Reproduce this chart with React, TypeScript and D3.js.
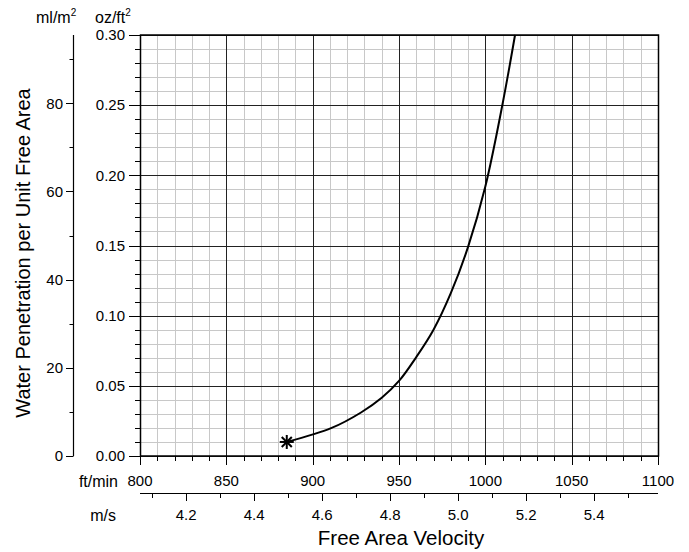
import React from "react";
import * as d3 from "d3";

const velocityFtMin = [885, 911, 928, 940, 950, 960, 970, 980, 990, 1000, 1010, 1017.2];
const penetrationOzFt2 = [0.01, 0.02, 0.031, 0.0415, 0.0535, 0.0705, 0.09, 0.116, 0.149, 0.192, 0.251, 0.3];
const ftTicks = [800, 850, 900, 950, 1000, 1050, 1100];
const msTicks = [4.2, 4.4, 4.6, 4.8, 5.0, 5.2, 5.4];
const ozTicks = [0, 0.05, 0.1, 0.15, 0.2, 0.25, 0.3];
const mlTicks = [0, 20, 40, 60, 80];

const FT_TO_MS = 0.00508;
const OZ_TO_ML = 318.32;
const FONT = "Liberation Sans, Arial, Helvetica, sans-serif";

export default function App() {
  const W = 689, H = 552;
  const L = 140, R = 658, T = 35, B = 456;
  const x = d3.scaleLinear().domain([800, 1100]).range([L, R]);
  const y = d3.scaleLinear().domain([0, 0.3]).range([B, T]);
  const xMs = (v: number) => x(v / FT_TO_MS);
  const yMl = (v: number) => y(v / OZ_TO_ML);
  const cr = (v: number) => Math.round(v) + 0.5;

  const minorX = d3.range(800, 1101, 10);
  const minorY = d3.range(0, 31, 1).map((d) => d / 100);
  const minorMs = d3.range(41, 56, 1).map((d) => d / 10).filter((d) => !msTicks.some((m) => Math.abs(m - d) < 1e-6));
  const minorMl = [10, 30, 50, 70, 90];
  const msAxisY = 493.5;
  const outerX = 73.5;

  const line = d3
    .line<number>()
    .x((_, i) => x(velocityFtMin[i]))
    .y((d) => y(d))
    .curve(d3.curveCatmullRom.alpha(0.5));

  const sx = x(velocityFtMin[0]);
  const sy = y(penetrationOzFt2[0]);
  const s = 7;

  return (
    <svg width={W} height={H} style={{ position: "absolute", left: 0, top: 0, background: "#fff" }} fontFamily={FONT}>
      {/* minor grid */}
      {minorX.map((v) => (
        <line key={"mx" + v} x1={cr(x(v))} x2={cr(x(v))} y1={T} y2={B} stroke="#c8c8c8" strokeWidth={1} />
      ))}
      {minorY.map((v) => (
        <line key={"my" + v} x1={L} x2={R} y1={cr(y(v))} y2={cr(y(v))} stroke="#c8c8c8" strokeWidth={1} />
      ))}
      {/* major grid */}
      {ftTicks.map((v) => (
        <line key={"Mx" + v} x1={cr(x(v))} x2={cr(x(v))} y1={T} y2={B} stroke="#222" strokeWidth={1} />
      ))}
      {ozTicks.map((v) => (
        <line key={"My" + v} x1={L} x2={R} y1={cr(y(v))} y2={cr(y(v))} stroke="#222" strokeWidth={1} />
      ))}
      {/* frame */}
      <rect x={cr(L)} y={cr(T) - 0.5} width={R - L} height={B - T} fill="none" stroke="#000" strokeWidth={1.5} />

      {/* inner y axis ticks */}
      {minorY.map((v) => (
        <line key={"ty" + v} x1={135} x2={L} y1={cr(y(v))} y2={cr(y(v))} stroke="#000" strokeWidth={1} />
      ))}
      {ozTicks.map((v) => (
        <g key={"tY" + v}>
          <line x1={129} x2={L} y1={cr(y(v))} y2={cr(y(v))} stroke="#000" strokeWidth={1} />
          <text x={125} y={y(v)} dy="0.35em" textAnchor="end" fontSize={15}>
            {v.toFixed(2)}
          </text>
        </g>
      ))}

      {/* outer ml axis */}
      <line x1={outerX} x2={outerX} y1={T} y2={B} stroke="#000" strokeWidth={1.2} />
      {minorMl.map((v) => (
        <line key={"tm" + v} x1={69.5} x2={outerX} y1={cr(yMl(v))} y2={cr(yMl(v))} stroke="#000" strokeWidth={1} />
      ))}
      {mlTicks.map((v) => (
        <g key={"tM" + v}>
          <line x1={66} x2={outerX} y1={cr(yMl(v))} y2={cr(yMl(v))} stroke="#000" strokeWidth={1} />
          <text x={63} y={yMl(v)} dy="0.35em" textAnchor="end" fontSize={15}>
            {v}
          </text>
        </g>
      ))}

      {/* bottom ft/min axis ticks */}
      {minorX.map((v) => (
        <line key={"tx" + v} x1={cr(x(v))} x2={cr(x(v))} y1={B} y2={461} stroke="#000" strokeWidth={1} />
      ))}
      {ftTicks.map((v) => (
        <g key={"tX" + v}>
          <line x1={cr(x(v))} x2={cr(x(v))} y1={B} y2={465} stroke="#000" strokeWidth={1} />
          <text x={x(v)} y={481} dy="0.35em" textAnchor="middle" fontSize={15}>
            {v}
          </text>
        </g>
      ))}
      <text x={118} y={481} dy="0.35em" textAnchor="end" fontSize={16}>ft/min</text>

      {/* m/s axis */}
      <line x1={L} x2={R} y1={msAxisY} y2={msAxisY} stroke="#000" strokeWidth={1.2} />
      {minorMs.map((v) => (
        <line key={"ts" + v} x1={cr(xMs(v))} x2={cr(xMs(v))} y1={msAxisY} y2={498} stroke="#000" strokeWidth={1} />
      ))}
      {msTicks.map((v) => (
        <g key={"tS" + v}>
          <line x1={cr(xMs(v))} x2={cr(xMs(v))} y1={msAxisY} y2={501} stroke="#000" strokeWidth={1} />
          <text x={xMs(v)} y={515} dy="0.35em" textAnchor="middle" fontSize={15}>
            {v.toFixed(1)}
          </text>
        </g>
      ))}
      <text x={116} y={515} dy="0.35em" textAnchor="end" fontSize={16}>m/s</text>

      {/* unit labels */}
      <text x={36} y={23} fontSize={16}>
        ml/m<tspan fontSize={10} dy={-7}>2</tspan>
      </text>
      <text x={95} y={23} fontSize={16}>
        oz/ft<tspan fontSize={10} dy={-7}>2</tspan>
      </text>

      {/* titles */}
      <text x={401} y={545} textAnchor="middle" fontSize={20.5}>Free Area Velocity</text>
      <text transform={`translate(30,253) rotate(-90)`} textAnchor="middle" fontSize={20}>
        Water Penetration per Unit Free Area
      </text>

      {/* curve */}
      <path d={line(penetrationOzFt2) || ""} fill="none" stroke="#000" strokeWidth={2} />
      {/* star marker */}
      <g stroke="#000" strokeWidth={2}>
        <line x1={sx - s} x2={sx + s} y1={sy} y2={sy} />
        <line x1={sx} x2={sx} y1={sy - s} y2={sy + s} />
        <line x1={sx - s * 0.72} x2={sx + s * 0.72} y1={sy - s * 0.72} y2={sy + s * 0.72} />
        <line x1={sx - s * 0.72} x2={sx + s * 0.72} y1={sy + s * 0.72} y2={sy - s * 0.72} />
      </g>
    </svg>
  );
}
